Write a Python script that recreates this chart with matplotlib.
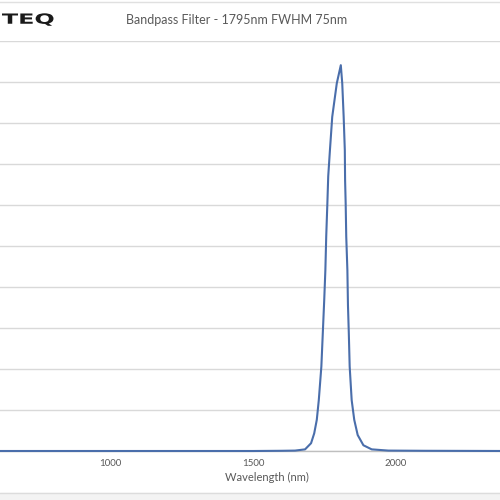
import matplotlib.pyplot as plt
from matplotlib.patches import Rectangle, PathPatch
from matplotlib.lines import Line2D
from matplotlib.textpath import TextPath
from matplotlib.font_manager import FontProperties
from matplotlib.transforms import Affine2D

# transmission curve (nm, %)
wavelength = [600, 1500, 1600, 1647, 1682, 1703, 1714, 1723, 1730, 1739, 1744, 1749,
              1753, 1756, 1760, 1763, 1769, 1777, 1793, 1807, 1812, 1817, 1821, 1822,
              1824, 1826, 1830, 1832, 1835, 1838, 1845, 1854, 1866, 1886, 1915, 1973,
              2100, 2400]
transmission = [0, 0, 0.05, 0.1, 0.4, 1.9, 4.3, 7.6, 12.4, 20.6, 28.7, 36.8,
                44.1, 52.3, 60.4, 67, 73.4, 81.5, 89.7, 94.1, 89.7, 81.5, 73.4, 66,
                60.4, 52.3, 44.1, 35.6, 28.7, 20.6, 12.4, 7.6, 3.9, 1.4, 0.4, 0.1,
                0.05, 0]
xticks = [1000, 1500, 2000]
yticks = list(range(0, 101, 10))

title = "Bandpass Filter - 1795nm FWHM 75nm"
xlabel = "Wavelength (nm)"
logo = "TEQ"

plt.rcParams['font.family'] = ['Lato', 'DejaVu Sans']
text_color = '#595959'

fig = plt.figure(figsize=(5, 5), dpi=100)

# plot area runs past the picture edges (the reference is a crop)
ax = fig.add_axes([0, 1 - 451 / 500, 1, 410 / 500])
ax.plot(wavelength, transmission, color='#4a6eab', linewidth=1.5, clip_on=False, zorder=3)
ax.set_xlim(615.4, 2363.6)
ax.set_ylim(0, 100)
ax.set_xticks(xticks)
ax.set_yticks(yticks)
ax.set_yticklabels([])
ax.tick_params(axis='x', length=0, pad=6, labelsize=7, labelcolor=text_color)
ax.tick_params(axis='y', length=0)
ax.grid(axis='y', color='#d9d9d9', linewidth=1)
for s in ['top', 'left', 'right']:
    ax.spines[s].set_visible(False)
ax.spines['bottom'].set_color('#bfbfbf')
ax.spines['bottom'].set_linewidth(1)

fig.text(267 / 500, 1 - 477 / 500, xlabel, fontsize=8, color=text_color, ha='center', va='center')

# header and footer decoration
fig.add_artist(Line2D([0, 1], [1 - 2 / 500, 1 - 2 / 500], color='#e0e0e0', linewidth=1))
fig.add_artist(Line2D([0, 1], [1 - 493 / 500, 1 - 493 / 500], color='#dcdcdc', linewidth=1))
fig.add_artist(Rectangle((0, 0), 1, 7 / 500, color='#f3f3f3', transform=fig.transFigure, zorder=0))
fig.text(237 / 500, 1 - 20 / 500, title, fontsize=9, color=text_color, ha='center', va='center')

# logo, stretched to fill its box (pixels, from top-left)
tp = TextPath((0, 0), logo, size=20, prop=FontProperties(family='DejaVu Sans', weight='bold'))
ext = tp.get_extents()
x0, x1, ytop, ybot = 2, 53.5, 13.3, 25.8
sx = (x1 - x0) / ext.width
sy = (ybot - ytop) / ext.height
tr = (Affine2D().translate(-ext.x0, -ext.y0).scale(sx / 500, sy / 500)
      .translate(x0 / 500, 1 - ybot / 500) + fig.transFigure)
fig.add_artist(PathPatch(tp, transform=tr, color='#1a1a1a', lw=0))

fig.savefig('out.png', dpi=100)
